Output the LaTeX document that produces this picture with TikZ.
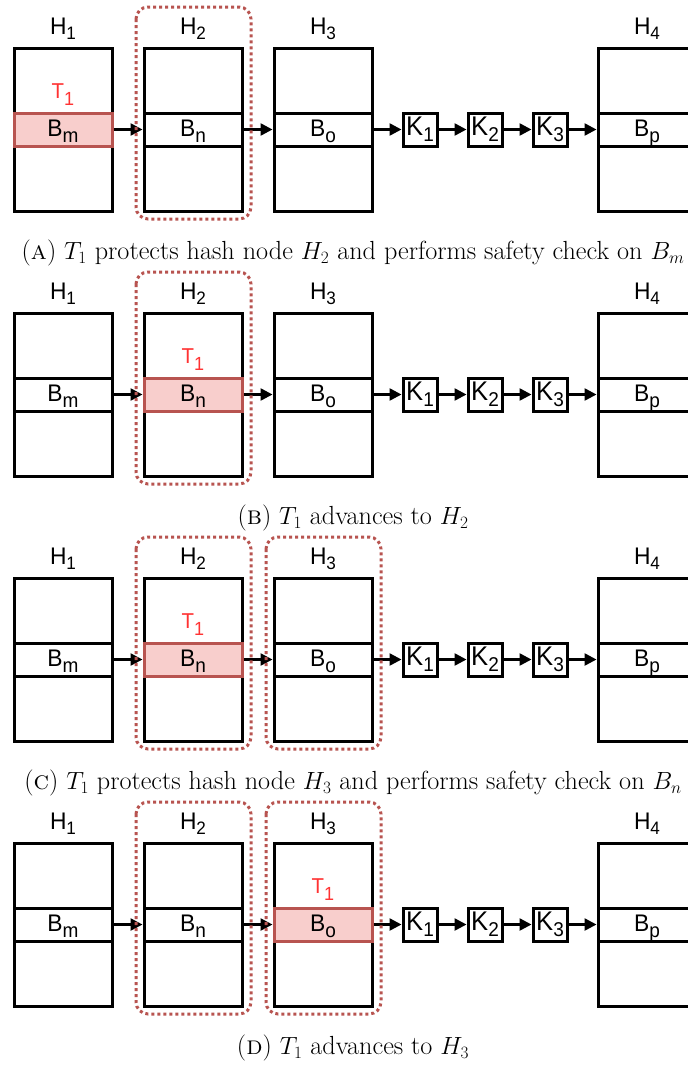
\documentclass[tikz,border=0pt]{standalone}
\usepackage{fontspec}
\newfontfamily\arialf[FakeStretch=0.95]{Liberation Sans}
\usetikzlibrary{arrows.meta,calc}
\definecolor{hl}{HTML}{F8CECC}
\definecolor{hlb}{HTML}{B85450}
\definecolor{tred}{HTML}{FF3333}
\newcommand\lsub[3]{\raisebox{-#2pt}{\fontsize{#1}{#1}\selectfont #3}}
\newcommand\mypanel[5]{%
\begin{scope}[shift={(0,#2)}]
\foreach \i/\x/\bb in {1/63/m,2/193/n,3/323/o,4/647/p}{%
  \ifnum\i=#3\relax\tikzset{cur/.style={hot}}\else\tikzset{cur/.style={}}\fi
  \node[hbox] (#1h\i) at (\x,129.5) {};
  \node[hlabel] (#1l\i) at (\x,34) {H\lsub{18}{5}{\i}};
  \node[cell,cur] (#1b\i) at (\x,129.5) {B\lsub{20}{6}{\bb}};
}
\foreach \j/\x in {1/420,2/485,3/550}{%
  \node[kbox] (#1k\j) at (\x,129.5) {K\lsub{20}{6}{\j}};
}
\node[tlabel] (#1t) at ([yshift=13pt]#1b#3.north) {T\lsub{19}{7}{1}};
\draw[link] (#1b1.east) -- (#1b2.west);
\draw[link] (#1b2.east) -- (#1b3.west);
\draw[link] (#1b3.east) -- (#1k1.west);
\draw[link] (#1k1.east) -- (#1k2.west);
\draw[link] (#1k2.east) -- (#1k3.west);
\draw[link] (#1k3.east) -- (#1b4.west);
\draw[guard] ($(#1h2.center)+(-57,-122.5)$) rectangle ($(#1h2.center)+(58,89.5)$);
\ifnum#4=1\relax
\draw[guard] ($(#1h3.center)+(-57,-122.5)$) rectangle ($(#1h3.center)+(58,89.5)$);
\fi
\node[captext] (#1c) at (353,259.5) {#5};
\end{scope}}
\begin{document}
\begin{tikzpicture}[x=1pt,y=-1pt,
  hbox/.style={draw=black,line width=3pt,minimum width=98pt,minimum height=163pt,inner sep=0pt},
  cell/.style={draw=black,line width=3pt,minimum width=98pt,minimum height=33pt,inner sep=0pt,
    font=\arialf\fontsize{24}{24}\selectfont,text height=14pt,text depth=0pt},
  hot/.style={fill=hl,draw=hlb},
  kbox/.style={draw=black,line width=3pt,minimum width=34pt,minimum height=33pt,inner sep=0pt,
    font=\arialf\fontsize{27}{27}\selectfont,text height=12.5pt,text depth=0pt},
  hlabel/.style={font=\arialf\fontsize{24}{24}\selectfont,anchor=base,inner sep=0pt},
  tlabel/.style={font=\arialf\fontsize{21.5}{21.5}\selectfont,anchor=base,inner sep=0pt,text=tred},
  guard/.style={draw=hlb,line width=3pt,dash pattern=on 3pt off 3pt,rounded corners=12pt},
  link/.style={line width=2.5pt,-{Triangle[length=12pt,width=12pt]}},
  captext/.style={font=\fontsize{26.2}{30}\selectfont,anchor=base,inner sep=0pt}
]
\useasboundingbox (0,0) rectangle (688,1066);
\clip (0,0) rectangle (688,1066);
\fill[white] (0,0) rectangle (688,1066);
\mypanel{a}{0}{1}{0}{(\textsc{a}) $T_1$ protects hash node $H_2$ and performs safety check on $B_m$}
\mypanel{b}{265}{2}{0}{(\textsc{b}) $T_1$ advances to $H_2$}
\mypanel{c}{530}{2}{1}{(\textsc{c}) $T_1$ protects hash node $H_3$ and performs safety check on $B_n$}
\mypanel{d}{795}{3}{1}{(\textsc{d}) $T_1$ advances to $H_3$}
\end{tikzpicture}
\end{document}
